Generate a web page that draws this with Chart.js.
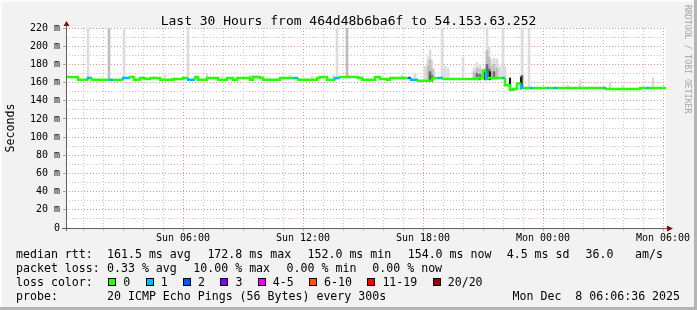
<!DOCTYPE html>
<html>
<head>
<meta charset="utf-8">
<script src="https://cdn.jsdelivr.net/npm/chart.js@4.4.0/dist/chart.umd.min.js"></script>
<style>
  body { margin: 0; background: #f2f2f2; }
  #wrap { position: relative; width: 697px; height: 310px; font-family: "DejaVu Sans Mono", monospace; }
  #wrap canvas { position: absolute; left: 0; top: 0; }
  .t { position: absolute; font-size: 11.6px; line-height: 14px; white-space: pre; color: #000; }
  .sw { position: absolute; top: 278px; width: 8px; height: 8px; box-sizing: border-box; border: 1px solid #000; }
  #title { position: absolute; left: 0; width: 697px; top: 12.5px; text-align: center; font-size: 13px; line-height: 15px; white-space: pre; color: #000; padding-left: 0; }
  #credit { position: absolute; left: 683px; top: 5px; writing-mode: vertical-rl; font-size: 8.2px; line-height: 10px; color: #a4a4a4; white-space: pre; }
</style>
</head>
<body>
<div id="wrap">
  <canvas id="rttChart" width="697" height="310"></canvas>
  <div id="title"></div>
  <div id="credit">RRDTOOL / TOBI OETIKER</div>

  <div class="t" style="left:16px;top:247px">median rtt:</div>
  <div class="t" style="left:107px;top:247px">161.5 ms avg</div>
  <div class="t" style="left:207.4px;top:247px">172.8 ms max</div>
  <div class="t" style="left:307.5px;top:247px">152.0 ms min</div>
  <div class="t" style="left:407.7px;top:247px">154.0 ms now</div>
  <div class="t" style="left:506.7px;top:247px">4.5 ms sd</div>
  <div class="t" style="left:585.5px;top:247px">36.0</div>
  <div class="t" style="left:635px;top:247px">am/s</div>

  <div class="t" style="left:16px;top:261px">packet loss:</div>
  <div class="t" style="left:107px;top:261px">0.33 % avg</div>
  <div class="t" style="left:193.3px;top:261px">10.00 % max</div>
  <div class="t" style="left:286.6px;top:261px">0.00 % min</div>
  <div class="t" style="left:372.3px;top:261px">0.00 % now</div>

  <div class="t" style="left:16px;top:275px">loss color:</div>
  <div id="lossKey"></div>

  <div class="t" style="left:16px;top:289px">probe:</div>
  <div class="t" style="left:107px;top:289px">20 ICMP Echo Pings (56 Bytes) every 300s</div>
  <div class="t" style="left:512.5px;top:289px">Mon Dec  8 06:06:36 2025</div>
</div>

<script>
const titleText = "Last 30 Hours from 464d48b6ba6f to 54.153.63.252";

// hours since Sun 00:00
const xGridHours = [1, 2, 3, 4, 5, 6, 7, 8, 9, 10, 11, 12, 13, 14, 15, 16, 17, 18, 19, 20,
  21, 22, 23, 24, 25, 26, 27, 28, 29, 30];
const xTickHours = [6, 12, 18, 24, 30];
const xTickLabels = ["Sun 06:00", "Sun 12:00", "Sun 18:00", "Mon 00:00", "Mon 06:00"];

const yGridValues = [0, 10, 20, 30, 40, 50, 60, 70, 80, 90, 100, 110, 120, 130, 140, 150,
  160, 170, 180, 190, 200, 210, 220];
const yTickValues = [0, 20, 40, 60, 80, 100, 120, 140, 160, 180, 200, 220];
const yTickLabels = ["0", "20 m", "40 m", "60 m", "80 m", "100 m", "120 m", "140 m", "160 m",
  "180 m", "200 m", "220 m"];

const lossLabels = ["0", "1", "2", "3", "4-5", "6-10", "11-19", "20/20"];
const lossColors = ["#26ff00", "#00b8ff", "#0059ff", "#7e00ff", "#f000ff", "#ff5500", "#ff0000", "#a10000"];

// median rtt (ms), one entry per run, value holds until the next hour
const medianHours = [0.15, 0.75, 0.95, 1.25, 1.45, 1.60, 2.30, 2.50, 3.00, 3.35, 3.55, 3.85,
  4.10, 4.35, 4.85, 5.50, 6.00, 6.25, 6.60, 6.75, 7.20, 7.75, 8.20, 8.50, 8.70, 9.35, 9.50,
  9.85, 10.00, 10.85, 11.00, 11.50, 11.75, 12.70, 12.85, 13.20, 13.35, 13.60, 13.85, 14.75,
  14.95, 15.60, 15.85, 16.20, 16.35, 17.25, 17.40, 17.75, 18.45, 18.75, 19.00, 20.70, 21.00,
  21.15, 21.30, 21.50, 21.95, 22.10, 22.35, 22.50, 22.70, 22.90, 23.00, 23.35, 23.50, 24.20,
  24.30, 24.50, 24.70, 27.00, 27.15, 28.85, 29.00, 29.20, 29.30, 30.15];
const medianValues = [165, 166, 163, 163, 165, 163, 163, 163, 163, 165, 166, 163,
  165, 164, 165, 163, 164, 165, 163, 166, 163, 165, 163, 165, 163, 165, 163,
  166, 165, 163, 165, 165, 165, 163, 165, 166, 163, 163, 165, 166,
  165, 163, 166, 164, 163, 165, 165, 163, 162, 165, 165, 164, 165,
  173, 164, 165, 165, 165, 157, 152, 153, 159, 154, 154, 154, 154,
  154, 154, 154, 154, 154, 153, 154, 154, 154, 154];
const medianLoss = [0, 0, 0, 1, 0, 0, 1, 0, 1, 0, 0, 0,
  0, 0, 0, 0, 0, 1, 0, 0, 0, 0, 0, 0, 0, 0, 0,
  0, 0, 0, 0, 1, 0, 0, 0, 0, 0, 1, 0, 0,
  0, 0, 0, 0, 0, 2, 1, 0, 0, 1, 0, 0, 0,
  1, 0, 0, 1, 0, 0, 0, 0, 1, 0, 1, 0, 1,
  0, 1, 0, 1, 0, 0, 0, 1, 0, 0];

// smoke: [hour, low ms, high ms]
const smokeLight = [[1.25, 165, 225], [3.05, 165, 225], [5.10, 165, 168], [6.25, 165, 225],
  [7.20, 165, 170], [7.95, 165, 167], [9.35, 165, 168], [9.50, 165, 168], [11.35, 165, 168],
  [12.45, 165, 167], [13.50, 165, 168], [13.70, 165, 225], [14.35, 165, 168], [16.95, 165, 168],
  [17.60, 165, 170], [18.10, 163, 178], [18.25, 163, 188], [18.35, 163, 196], [18.45, 163, 185],
  [18.55, 163, 175], [18.95, 165, 225], [19.10, 165, 178], [19.25, 165, 176], [20.00, 165, 188],
  [20.55, 164, 176], [20.70, 163, 182], [20.85, 163, 180], [21.00, 164, 175], [21.20, 164, 225],
  [21.30, 164, 200], [21.40, 164, 185], [21.55, 164, 187], [21.70, 164, 186], [21.85, 164, 178],
  [22.00, 165, 225], [22.10, 165, 178], [22.95, 154, 225], [23.30, 154, 225], [25.25, 154, 157],
  [25.85, 154, 163], [27.35, 154, 161], [28.00, 154, 157], [29.50, 154, 165]];
const smokeMid = [[2.30, 164, 225], [14.20, 165, 225], [18.25, 163, 178], [18.35, 163, 185],
  [18.45, 162, 175], [20.55, 164, 172], [20.70, 163, 176], [20.85, 163, 175], [21.20, 164, 195],
  [21.30, 164, 188], [21.40, 164, 178], [21.55, 164, 180], [21.70, 164, 176]];
const smokeDark = [[18.35, 162, 172], [18.45, 161, 168], [20.70, 163, 170], [20.85, 163, 169],
  [21.20, 164, 180], [21.30, 164, 175], [21.55, 164, 172], [22.95, 154, 168]];
const smokeBlack = [[18.40, 161, 166], [21.10, 163, 174], [21.35, 163, 172], [22.35, 153, 165],
  [22.90, 153, 166]];

const mono = '"DejaVu Sans Mono", monospace';

document.getElementById("title").textContent = titleText;

/* loss colour key under the chart */
const swatchLeft = [108.3, 145.7, 183, 220.4, 257.8, 309.1, 367.4, 432.7];
const key = document.getElementById("lossKey");
lossLabels.forEach((label, i) => {
  const box = document.createElement("div");
  box.className = "sw";
  box.style.left = swatchLeft[i] + "px";
  box.style.background = lossColors[i];
  key.appendChild(box);
  const txt = document.createElement("div");
  txt.className = "t";
  txt.style.left = (swatchLeft[i] + 15) + "px";
  txt.style.top = "275px";
  txt.textContent = label;
  key.appendChild(txt);
});

function smokeSet(rows, color, order, thickness) {
  return {
    type: "bar",
    data: rows.map(r => ({ x: r[0], y: [r[1], r[2]] })),
    backgroundColor: color,
    borderWidth: 0,
    barThickness: thickness,
    grouped: false,
    order
  };
}

const majorGrid = "#e39393";
const minorGrid = "#c6c6c6";

/* canvas backdrop, frame, axes with arrows */
const rrdFrame = {
  id: "rrdFrame",
  beforeDraw(chart) {
    const { ctx, chartArea: a, width, height } = chart;
    ctx.save();
    ctx.fillStyle = "#f2f2f2";
    ctx.fillRect(0, 0, width, height);
    ctx.fillStyle = "#ffffff";
    ctx.fillRect(a.left, a.top, a.right - a.left, a.bottom - a.top);
    ctx.fillStyle = "#fcfcfc";
    ctx.fillRect(0, 0, width, 2);
    ctx.fillRect(0, 0, 2, height);
    ctx.fillStyle = "#b4b4b4";
    ctx.fillRect(width - 3, 0, 3, height);
    ctx.fillRect(0, height - 3, width, 3);
    ctx.restore();
  },
  afterDatasetsDraw(chart) {
    const { ctx, chartArea: a } = chart;
    ctx.save();
    ctx.strokeStyle = "#606060";
    ctx.lineWidth = 1;
    ctx.beginPath();
    ctx.moveTo(a.left + 0.5, a.bottom + 3);
    ctx.lineTo(a.left + 0.5, a.top - 4);
    ctx.moveTo(a.left - 4, a.bottom + 0.5);
    ctx.lineTo(a.right + 3, a.bottom + 0.5);
    ctx.stroke();
    ctx.fillStyle = "#7f1010";
    ctx.beginPath();
    ctx.moveTo(a.left + 0.5, a.top - 7);
    ctx.lineTo(a.left - 2.5, a.top - 2);
    ctx.lineTo(a.left + 3.5, a.top - 2);
    ctx.fill();
    ctx.beginPath();
    ctx.moveTo(a.right + 7, a.bottom + 0.5);
    ctx.lineTo(a.right + 1, a.bottom - 2.5);
    ctx.lineTo(a.right + 1, a.bottom + 3.5);
    ctx.fill();
    ctx.restore();
  }
};

new Chart(document.getElementById("rttChart"), {
  type: "line",
  data: {
    datasets: [
      {
        type: "line",
        data: medianHours.map((h, i) => ({ x: h, y: medianValues[i] })),
        stepped: "after",
        borderWidth: 2.5,
        borderColor: lossColors[0],
        pointRadius: 0,
        segment: { borderColor: c => lossColors[medianLoss[c.p0DataIndex]] },
        order: 0
      },
      smokeSet(smokeBlack, "#1a1a1a", 1, 1.5),
      smokeSet(smokeDark, "#6e6e6e", 2, 2),
      smokeSet(smokeMid, "#bdbdbd", 3, 2),
      smokeSet(smokeLight, "#dcdcdc", 4, 2)
    ]
  },
  options: {
    responsive: false,
    animation: false,
    devicePixelRatio: 1,
    layout: { padding: { left: 0, right: 31, top: 28, bottom: 62 } },
    plugins: {
      legend: { display: false },
      tooltip: { enabled: false },
      title: { display: false }
    },
    scales: {
      x: {
        type: "linear",
        min: 0.15,
        max: 30.15,
        offset: false,
        afterBuildTicks: s => { s.ticks = xGridHours.map(v => ({ value: v })); },
        afterFit: s => { s.height = 20; },
        grid: {
          offset: false,
          lineWidth: 1,
          tickLength: 3,
          color: c => (c.tick && c.tick.value % 6 === 0 ? majorGrid : minorGrid),
          tickColor: c => (c.tick && c.tick.value % 6 === 0 ? majorGrid : minorGrid)
        },
        border: { display: false, dash: [1, 2] },
        ticks: {
          autoSkip: false,
          maxRotation: 0,
          padding: 1,
          color: "#000",
          font: { family: mono, size: 10 },
          callback: v => {
            const i = xTickHours.indexOf(v);
            return i < 0 ? "" : xTickLabels[i];
          }
        }
      },
      y: {
        min: 0,
        max: 220,
        afterBuildTicks: s => { s.ticks = yGridValues.map(v => ({ value: v })); },
        afterFit: s => { s.width = 66; },
        grid: {
          lineWidth: 1,
          tickLength: 3,
          color: c => (c.tick && c.tick.value % 20 === 0 ? majorGrid : minorGrid),
          tickColor: c => (c.tick && c.tick.value % 20 === 0 ? majorGrid : "rgba(0,0,0,0)")
        },
        border: { display: false, dash: [1, 2] },
        ticks: {
          autoSkip: false,
          padding: 3,
          color: "#000",
          font: { family: mono, size: 10 },
          callback: v => {
            const i = yTickValues.indexOf(v);
            return i < 0 ? "" : yTickLabels[i];
          }
        },
        title: {
          display: true,
          text: "Seconds",
          color: "#000",
          font: { family: mono, size: 11.6 },
          padding: { top: 4, bottom: 0 }
        }
      }
    }
  },
  plugins: [rrdFrame]
});
</script>
</body>
</html>
